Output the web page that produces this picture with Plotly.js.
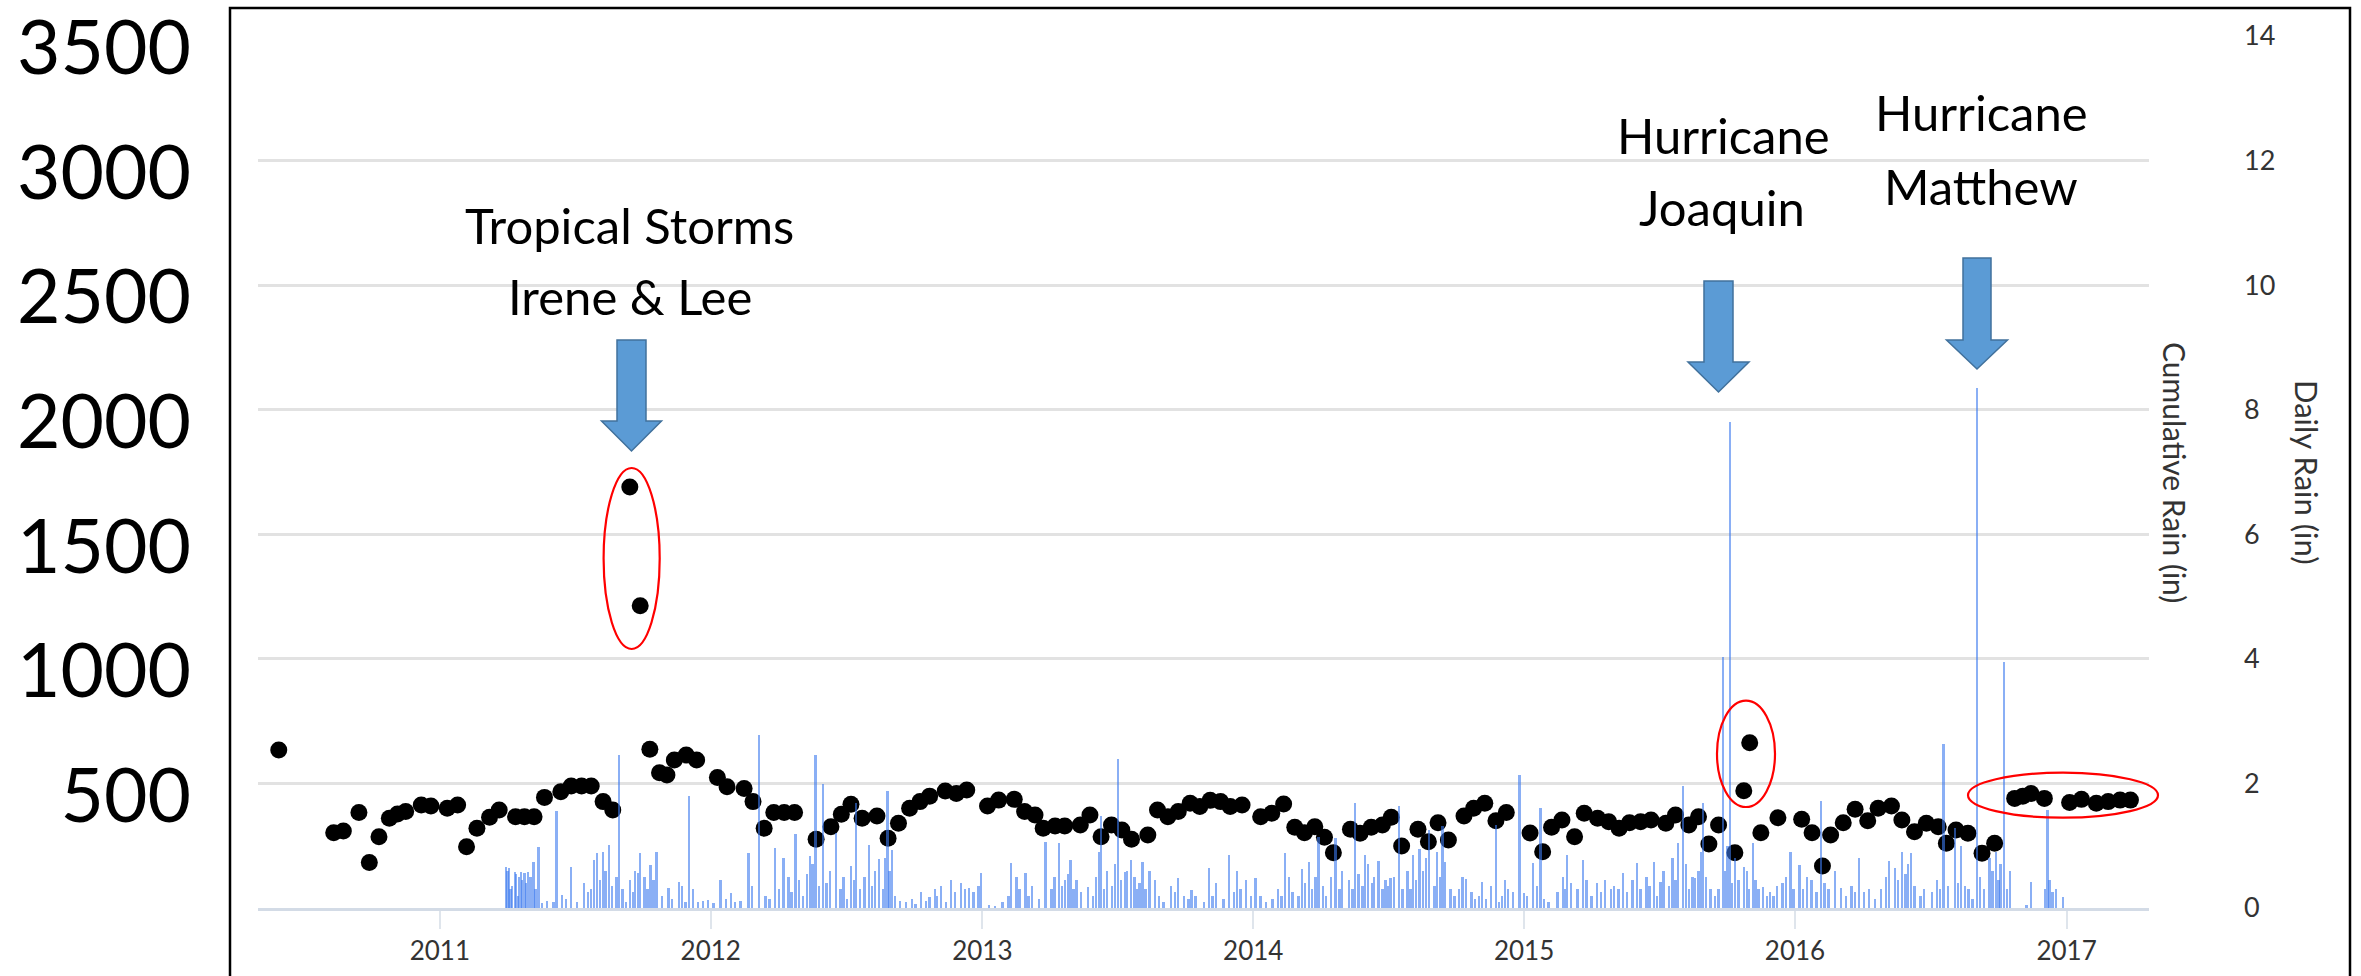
<!DOCTYPE html>
<html><head><meta charset="utf-8">
<script src="https://cdn.plot.ly/plotly-3.0.1.min.js"></script>
<style>html,body{margin:0;padding:0;background:#fff;overflow:hidden}#chart{width:2361px;height:976px}</style>
</head><body><div id="chart"></div>
<script>
// ---- cumulative rain dots (left axis) ----
const dotDates = ['2010-05-29','2010-08-11','2010-08-24','2010-09-14','2010-09-28','2010-10-11','2010-10-25','2010-11-05','2010-11-16','2010-12-07','2010-12-20',
'2011-01-11','2011-01-25','2011-02-06','2011-02-20','2011-03-09','2011-03-22','2011-04-13','2011-04-25','2011-05-08','2011-05-22','2011-06-13','2011-06-27','2011-07-11','2011-07-24','2011-08-09','2011-08-22','2011-09-14','2011-09-28','2011-10-11','2011-10-24','2011-11-03','2011-11-13','2011-11-29','2011-12-13',
'2012-01-10','2012-01-23','2012-02-15','2012-02-27','2012-03-13','2012-03-26','2012-04-09','2012-04-23','2012-05-22','2012-06-11','2012-06-25','2012-07-08','2012-07-23','2012-08-12','2012-08-27','2012-09-10','2012-09-25','2012-10-09','2012-10-22','2012-11-12','2012-11-27','2012-12-11',
'2013-01-08','2013-01-23','2013-02-13','2013-02-27','2013-03-13','2013-03-24','2013-04-09','2013-04-22','2013-05-13','2013-05-26','2013-06-10','2013-06-24','2013-07-08','2013-07-21','2013-08-12','2013-08-25','2013-09-08','2013-09-22','2013-10-08','2013-10-21','2013-11-04','2013-11-18','2013-12-01','2013-12-17',
'2014-01-11','2014-01-26','2014-02-11','2014-02-26','2014-03-11','2014-03-25','2014-04-07','2014-04-19','2014-05-12','2014-05-25','2014-06-09','2014-06-24','2014-07-06','2014-07-20','2014-08-11','2014-08-25','2014-09-07','2014-09-21','2014-10-12','2014-10-25','2014-11-09','2014-11-24','2014-12-08',
'2015-01-09','2015-01-26','2015-02-07','2015-02-21','2015-03-10','2015-03-23','2015-04-10','2015-04-25','2015-05-09','2015-05-23','2015-06-07','2015-06-21','2015-07-11','2015-07-24','2015-08-11','2015-08-24','2015-09-07','2015-09-20','2015-10-12','2015-10-24','2015-11-01','2015-11-16','2015-12-09',
'2016-01-10','2016-01-24','2016-02-07','2016-02-18','2016-03-06','2016-03-22','2016-04-08','2016-04-22','2016-05-10','2016-05-24','2016-06-10','2016-06-26','2016-07-12','2016-07-23','2016-08-05','2016-08-21','2016-09-09','2016-09-26','2016-10-23','2016-11-03','2016-11-14','2016-12-02',
'2017-01-05','2017-01-21','2017-02-10','2017-02-26','2017-03-14','2017-03-28'];
const cumulativeRain = [634,302,309,383,183,286,360,377,387,413,409,
400,413,246,320,364,393,366,366,366,444,467,490,490,490,427,393,1690,1213,637,543,534,594,614,594,
524,487,480,427,320,383,383,383,276,326,376,416,360,369,280,340,400,427,449,470,460,474,
409,433,436,387,373,320,329,329,333,373,286,333,313,276,293,393,366,387,420,407,432,427,407,413,
366,380,417,324,302,326,284,222,316,300,324,333,364,249,316,266,342,273,369,400,420,350,383,
301,226,324,353,286,380,360,346,320,342,346,353,340,373,333,366,257,333,222,471,663,302,362,
356,302,169,293,342,396,350,400,409,353,306,340,326,260,313,300,220,260,440,449,460,440,
423,436,420,427,433,433];

// ---- daily rain bars (right axis) ----
const rainDates = [
'2011-03-31','2011-04-04','2011-04-12','2011-04-20','2011-04-25','2011-04-30','2011-05-07','2011-05-14','2011-05-19','2011-06-07','2011-06-15','2011-06-27','2011-07-14','2011-07-28','2011-08-01','2011-08-09','2011-08-17','2011-08-30','2011-09-09','2011-09-25','2011-09-28','2011-10-04','2011-10-12','2011-10-20','2011-11-05','2011-11-19','2011-12-03','2011-12-28',
'2012-01-14','2012-01-28','2012-02-21','2012-03-06','2012-03-28','2012-04-08','2012-04-24','2012-05-14','2012-05-21','2012-05-31','2012-06-18','2012-07-08','2012-07-15','2012-08-01','2012-08-15','2012-08-26','2012-09-01','2012-10-10','2012-10-29','2012-11-06','2012-11-20','2012-12-14','2012-12-30',
'2013-02-09','2013-02-28','2013-03-27','2013-04-14','2013-04-22','2013-04-30','2013-05-23','2013-06-10','2013-07-03','2013-07-12','2013-07-20','2013-08-05','2013-08-22','2013-09-22','2013-10-10','2013-11-02','2013-11-29',
'2014-01-04','2014-02-13','2014-03-08','2014-03-17','2014-03-30','2014-04-22','2014-05-18','2014-06-01','2014-07-05','2014-07-16','2014-08-04','2014-08-26','2014-09-13','2014-09-16','2014-10-15','2014-11-05','2014-11-24','2014-12-26',
'2015-01-01','2015-01-13','2015-01-23','2015-02-28','2015-03-21','2015-05-14','2015-06-02','2015-06-25','2015-07-04','2015-07-27','2015-08-03','2015-08-19','2015-08-30','2015-09-26','2015-10-05','2015-10-24','2015-11-05','2015-11-19','2015-12-26',
'2016-01-07','2016-02-05','2016-03-03','2016-03-27','2016-05-15','2016-06-05','2016-07-19','2016-08-04','2016-09-02','2016-10-09','2016-11-14','2016-12-06','2016-12-27',
// smaller daily totals
'2011-04-02','2011-04-06','2011-04-08','2011-04-14','2011-04-16','2011-04-18','2011-04-22','2011-04-27','2011-05-03','2011-05-10','2011-05-25','2011-06-03','2011-06-20','2011-07-05','2011-07-20','2011-07-24','2011-08-05','2011-08-12','2011-08-21','2011-08-27','2011-09-04','2011-09-14','2011-09-18','2011-09-21','2011-10-08','2011-10-16','2011-10-27','2011-11-10','2011-11-23','2011-11-28','2011-12-08','2011-12-15','2011-12-22',
'2012-01-05','2012-01-22','2012-02-03','2012-02-10','2012-02-26','2012-03-15','2012-03-20','2012-04-02','2012-04-15','2012-04-19','2012-04-29','2012-05-04','2012-05-10','2012-05-17','2012-05-26','2012-06-05','2012-06-10','2012-06-24','2012-06-28','2012-07-03','2012-07-12','2012-07-20','2012-07-26','2012-08-05','2012-08-09','2012-08-20','2012-08-23','2012-08-29','2012-09-05','2012-09-12','2012-09-20','2012-09-28','2012-10-03','2012-10-17','2012-10-22','2012-11-01','2012-11-13','2012-11-25','2012-12-03','2012-12-09','2012-12-20','2012-12-27',
'2013-01-10','2013-01-18','2013-01-28','2013-02-05','2013-02-16','2013-02-20','2013-03-04','2013-03-09','2013-03-18','2013-04-04','2013-04-08','2013-04-18','2013-04-26','2013-05-04','2013-05-08','2013-05-14','2013-05-30','2013-06-03','2013-06-07','2013-06-14','2013-06-18','2013-06-25','2013-06-29','2013-07-07','2013-07-15','2013-07-25','2013-07-28','2013-08-01','2013-08-09','2013-08-14','2013-08-27','2013-09-02','2013-09-12','2013-09-18','2013-09-30','2013-10-06','2013-10-15','2013-10-27','2013-11-07','2013-11-12','2013-11-22','2013-12-06','2013-12-10','2013-12-15','2013-12-22','2013-12-29',
'2014-01-11','2014-01-18','2014-01-27','2014-02-03','2014-02-08','2014-02-18','2014-02-23','2014-03-03','2014-03-12','2014-03-21','2014-03-26','2014-04-05','2014-04-09','2014-04-16','2014-04-27','2014-05-01','2014-05-10','2014-05-15','2014-05-23','2014-05-28','2014-06-05','2014-06-10','2014-06-13','2014-06-19','2014-06-24','2014-06-28','2014-07-02','2014-07-10','2014-07-21','2014-07-28','2014-08-01','2014-08-08','2014-08-13','2014-08-18','2014-08-22','2014-09-02','2014-09-06','2014-09-10','2014-09-24','2014-09-29','2014-10-05','2014-10-10','2014-10-22','2014-10-27','2014-11-01','2014-11-11','2014-11-17','2014-11-28','2014-12-02','2014-12-06','2014-12-10','2014-12-17',
'2015-01-05','2015-01-18','2015-01-28','2015-02-03','2015-02-15','2015-02-22','2015-02-25','2015-03-05','2015-03-14','2015-03-26','2015-04-02','2015-04-09','2015-04-15','2015-04-20','2015-04-28','2015-05-02','2015-05-08','2015-05-20','2015-05-27','2015-06-07','2015-06-15','2015-06-19','2015-06-29','2015-07-08','2015-07-15','2015-07-20','2015-07-24','2015-08-07','2015-08-11','2015-08-16','2015-08-24','2015-08-27','2015-09-03','2015-09-09','2015-09-15','2015-09-20','2015-09-29','2015-10-02','2015-10-08','2015-10-12','2015-10-17','2015-10-28','2015-10-31','2015-11-09','2015-11-13','2015-11-24','2015-11-28','2015-12-03','2015-12-08','2015-12-15','2015-12-20','2015-12-30',
'2016-01-12','2016-01-17','2016-01-23','2016-01-30','2016-02-10','2016-02-15','2016-02-24','2016-03-10','2016-03-17','2016-03-22','2016-04-03','2016-04-10','2016-04-18','2016-04-26','2016-05-03','2016-05-07','2016-05-19','2016-05-24','2016-05-29','2016-06-01','2016-06-10','2016-06-18','2016-06-23','2016-07-04','2016-07-10','2016-07-14','2016-07-25','2016-08-08','2016-08-12','2016-08-17','2016-08-22','2016-08-27','2016-09-06','2016-09-12','2016-09-19','2016-09-23','2016-09-28','2016-10-01','2016-10-04','2016-10-13','2016-10-17','2016-11-08','2016-12-03','2016-12-09','2016-12-13','2016-12-18'];
const dailyRain = [
0.66,0.64,0.58,0.58,0.57,0.58,0.74,0.98,0.08,1.56,0.21,0.66,0.40,0.77,0.88,0.90,1.01,2.46,0.10,0.57,0.88,0.50,0.69,0.90,0.32,0.42,1.80,0.13,
0.45,0.24,0.88,2.78,0.97,0.81,1.19,0.84,2.46,1.99,1.20,0.67,1.68,1.01,0.78,1.88,0.93,0.26,0.30,0.35,0.45,0.32,0.56,
0.72,0.56,1.06,1.04,0.45,0.77,0.34,1.48,2.39,0.58,0.77,0.74,0.45,0.48,0.29,0.64,0.85,
0.48,0.88,0.62,0.74,1.14,1.12,1.68,0.85,0.48,1.63,0.85,1.25,1.31,0.74,0.46,0.41,1.33,2.13,
0.24,0.72,1.60,0.85,0.77,0.56,0.72,0.74,0.41,1.04,1.96,0.48,1.68,4.03,7.80,0.66,1.04,0.34,0.90,
0.69,1.71,0.32,0.80,0.64,0.88,2.64,1.28,8.35,3.95,0.41,1.57,0.18,
0.60,0.30,0.35,0.55,0.20,0.50,0.45,0.40,0.50,0.30,0.12,0.10,0.15,0.10,0.25,0.30,0.45,0.60,0.35,0.50,0.30,0.45,0.25,0.60,0.30,0.45,0.20,0.15,0.35,0.10,0.30,0.10,0.12,
0.08,0.15,0.10,0.12,0.35,0.20,0.15,0.30,0.50,0.25,0.45,0.20,0.55,0.70,0.35,0.40,0.60,0.30,0.50,0.15,0.45,0.30,0.50,0.35,0.60,0.30,0.80,0.60,0.20,0.12,0.10,0.15,0.06,0.12,0.18,0.20,0.10,0.25,0.40,0.30,0.25,0.35,
0.05,0.04,0.10,0.20,0.50,0.30,0.20,0.35,0.15,0.30,0.50,0.35,0.55,0.30,0.45,0.25,0.20,0.50,0.90,0.30,0.60,0.35,0.70,0.45,0.60,0.50,0.30,0.40,0.30,0.60,0.20,0.10,0.35,0.25,0.20,0.15,0.20,0.10,0.20,0.40,0.15,0.25,0.60,0.30,0.45,0.20,
0.20,0.10,0.15,0.30,0.20,0.50,0.25,0.20,0.40,0.30,0.50,0.35,0.20,0.50,0.30,0.60,0.45,0.30,0.55,0.35,0.70,0.40,0.50,0.75,0.30,0.45,0.35,0.50,0.30,0.60,0.30,0.45,0.95,0.60,0.80,0.35,0.90,0.50,0.30,0.20,0.30,0.50,0.25,0.15,0.20,0.15,0.35,0.10,0.20,0.45,0.30,0.25,
0.20,0.35,0.15,0.10,0.25,0.50,0.30,0.40,0.30,0.45,0.20,0.40,0.25,0.45,0.30,0.35,0.30,0.25,0.45,0.30,0.50,0.35,0.20,0.60,0.35,0.80,0.45,0.70,0.30,0.50,0.60,0.90,0.50,0.30,0.20,0.30,0.60,1.00,0.40,0.80,0.45,0.60,0.30,0.45,0.30,0.20,0.25,0.20,0.35,0.40,0.50,0.30,
0.30,0.50,0.45,0.25,0.40,0.30,0.60,0.20,0.35,0.25,0.25,0.30,0.15,0.30,0.50,0.75,0.45,0.90,0.55,0.70,0.35,0.20,0.30,0.25,0.45,0.30,0.35,0.40,1.00,0.35,0.30,0.15,0.50,0.30,0.80,0.60,0.90,0.45,0.70,0.30,0.60,0.05,0.30,0.45,0.25,0.30];

// ---- axis ticks ----
const leftTicks = [500,1000,1500,2000,2500,3000,3500];
const rightTicks = [0,2,4,6,8,10,12,14];
const yearTicks = ['2011-01-01','2012-01-01','2013-01-01','2014-01-01','2015-01-01','2016-01-01','2017-01-01'];
const yearLabels = ['2011','2012','2013','2014','2015','2016','2017'];

// ---- storm callouts ----
const stormLines = [
  {text:'Tropical Storms', x:629, y:225}, {text:'Irene &amp; Lee', x:630, y:296},
  {text:'Hurricane', x:1723, y:135}, {text:'Joaquin', x:1722, y:207},
  {text:'Hurricane', x:1981, y:112}, {text:'Matthew', x:1981, y:186}
];

const W=2361, H=976, M={l:258, r:212, t:36, b:68};
const PW=W-M.l-M.r, PH=H-M.t-M.b;
const px = x => (x-M.l)/PW;
const py = y => (H-M.b-y)/PH;

function arrowShape(cx, sh, top, headY, hh, tip){
  const p = [[cx-sh,top],[cx+sh,top],[cx+sh,headY],[cx+hh,headY],[cx,tip],[cx-hh,headY],[cx-sh,headY]];
  return {type:'path', xref:'paper', yref:'paper',
    path: 'M' + p.map(q => px(q[0]).toFixed(5)+','+py(q[1]).toFixed(5)).join(' L') + ' Z',
    fillcolor:'#5b9bd5', line:{color:'#41719c', width:1.5}, layer:'above'};
}
function ellipse(x0,y0,x1,y1){
  return {type:'circle', xref:'paper', yref:'paper', x0:px(x0), x1:px(x1), y0:py(y1), y1:py(y0),
    line:{color:'#ff0000', width:2.2}, fillcolor:'rgba(0,0,0,0)', layer:'above'};
}

const shapes = [
  arrowShape(631.5, 14.5, 340, 421, 30, 451),
  arrowShape(1718.5, 14.5, 281, 362, 30.5, 392),
  arrowShape(1977, 14, 258, 340, 30.5, 369),
  ellipse(603.6, 468, 659.7, 649),
  ellipse(1717, 700.7, 1775, 807),
  ellipse(1968, 772.7, 2158, 817.7),
  {type:'rect', xref:'paper', yref:'paper', x0:px(230), x1:px(2350), y0:py(995), y1:py(8),
   line:{color:'#000', width:2.5}, fillcolor:'rgba(0,0,0,0)', layer:'above'}
];

const annotations = stormLines.map(s => ({
  text:s.text, xref:'paper', yref:'paper', x:px(s.x), y:py(s.y), xanchor:'center', yanchor:'middle',
  showarrow:false, font:{family:'Lato', size:49, color:'#000'}
}));
annotations.push({text:'Cumulative Rain (in)', xref:'paper', yref:'paper', x:px(2175), y:py(472),
  textangle:90, showarrow:false, xanchor:'center', yanchor:'middle', font:{family:'Lato', size:30, color:'#333'}});
annotations.push({text:'Daily Rain (in)', xref:'paper', yref:'paper', x:px(2307), y:py(472),
  textangle:90, showarrow:false, xanchor:'center', yanchor:'middle', font:{family:'Lato', size:31, color:'#333'}});

const traces = [
  {type:'scatter', mode:'markers', x:dotDates, y:cumulativeRain, yaxis:'y',
   marker:{color:'#000', size:17, line:{width:0}}, hoverinfo:'skip'},
  {type:'bar', x:rainDates, y:dailyRain, yaxis:'y2', width:3.2*86400000,
   marker:{color:'rgba(60,122,238,0.6)', line:{width:0}}, hoverinfo:'skip'}
];

const layout = {
  width:W, height:H, margin:M, showlegend:false,
  paper_bgcolor:'#fff', plot_bgcolor:'rgba(0,0,0,0)',
  font:{family:'Lato', color:'#333'},
  bargap:0,
  xaxis:{type:'date', range:['2010-05-01','2017-04-22'], tickvals:yearTicks, ticktext:yearLabels,
    showgrid:false, zeroline:false, showline:true, linecolor:'#d3dbe6', linewidth:3,
    ticks:'outside', ticklen:18, tickwidth:2, tickcolor:'#dfe5ec',
    tickfont:{family:'Lato', size:26, color:'#333'}},
  yaxis:{range:[0,3500], tickvals:leftTicks, ticktext:leftTicks.map(String), showgrid:false, zeroline:false,
    showline:false, ticks:'', ticklabelstandoff:66, ticklabelshift:12, ticklabeloverflow:'allow',
    tickfont:{family:'Lato', size:75, color:'#000'}},
  yaxis2:{range:[0,14], overlaying:'y', side:'right', tickvals:rightTicks, showgrid:true, gridcolor:'#e2e2e2',
    gridwidth:3, zeroline:false, showline:false, ticks:'', ticklabelstandoff:94, ticklabeloverflow:'allow',
    tickfont:{family:'Lato', size:27, color:'#333'}},
  shapes:shapes, annotations:annotations
};

Plotly.newPlot('chart', traces, layout, {staticPlot:true, displayModeBar:false});
</script></body></html>
